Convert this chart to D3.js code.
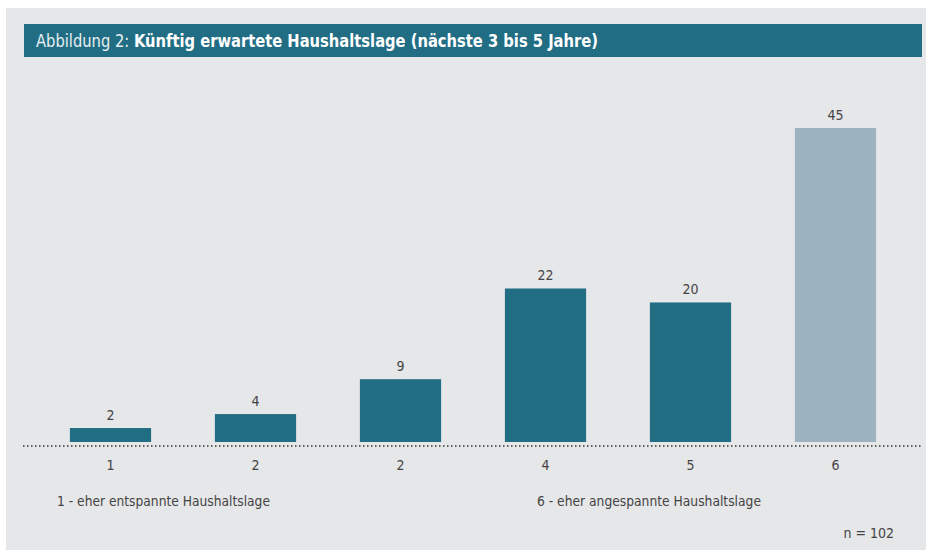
<!DOCTYPE html>
<html><head><meta charset="utf-8">
<script src="https://cdn.jsdelivr.net/npm/d3@7"></script>
<style>
html,body{margin:0;padding:0;background:#fff;}
svg{display:block;}
text{font-family:"Liberation Sans Narrow","DejaVu Sans Condensed","Liberation Sans",sans-serif;}
</style></head>
<body>
<script>
const categories = ["1", "2", "2", "4", "5", "6"];
const values = [2, 4, 9, 22, 20, 45];
const highlight = [false, false, false, false, false, true];
const titlePrefix = "Abbildung 2: ";
const titleMain = "Künftig erwartete Haushaltslage (nächste 3 bis 5 Jahre)";
const noteLeft = "1 - eher entspannte Haushaltslage";
const noteRight = "6 - eher angespannte Haushaltslage";
const nNote = "n = 102";

const W = 926, H = 550;
const svg = d3.select("body").append("svg").attr("width", W).attr("height", H);

svg.append("rect").attr("x", 6).attr("y", 8).attr("width", W - 6).attr("height", H - 8).attr("fill", "#e6e7e9");

// title bar
svg.append("rect").attr("x", 24).attr("y", 24).attr("width", 898).attr("height", 33).attr("fill", "#216e84");
const t = svg.append("text").attr("x", 36).attr("y", 47).attr("font-size", 17).attr("fill", "#fff")
  .attr("textLength", 562).attr("lengthAdjust", "spacingAndGlyphs");
t.append("tspan").text(titlePrefix).attr("fill", "#e8eef1");
t.append("tspan").text(titleMain).attr("font-weight", "bold");

const x = d3.scaleBand().domain(d3.range(categories.length)).range([38, 908]).paddingInner(0.44).paddingOuter(0.22);
const y = d3.scaleLinear().domain([0, 45]).range([442, 128]);

svg.selectAll("rect.bar").data(values).join("rect").attr("class", "bar")
  .attr("x", (d, i) => x(i)).attr("width", x.bandwidth())
  .attr("y", d => y(d)).attr("height", d => y(0) - y(d))
  .attr("fill", (d, i) => highlight[i] ? "#9db3c0" : "#216e84");

svg.selectAll("text.val").data(values).join("text").attr("class", "val")
  .attr("x", (d, i) => x(i) + x.bandwidth() / 2).attr("y", d => y(d) - 8)
  .attr("text-anchor", "middle").attr("font-size", 14).attr("fill", "#444")
  .text(d => d);

// dotted baseline
svg.append("line").attr("x1", 23).attr("x2", 922).attr("y1", 446).attr("y2", 446)
  .attr("stroke", "#333").attr("stroke-width", 1.5).attr("stroke-dasharray", "1.5,2.5");

// category axis
const axis = d3.axisBottom(x).tickSize(0).tickPadding(0).tickFormat(i => categories[i]);
const ag = svg.append("g").attr("transform", "translate(0,460)").call(axis);
ag.select(".domain").remove();
ag.selectAll("text").attr("font-size", 14).attr("fill", "#444")
  .attr("font-family", "'Liberation Sans Narrow','DejaVu Sans Condensed',sans-serif");

svg.append("text").attr("x", 57).attr("y", 506).attr("font-size", 14).attr("fill", "#444")
  .attr("textLength", 213).attr("lengthAdjust", "spacingAndGlyphs").text(noteLeft);
svg.append("text").attr("x", 537).attr("y", 506).attr("font-size", 14).attr("fill", "#444")
  .attr("textLength", 224).attr("lengthAdjust", "spacingAndGlyphs").text(noteRight);
svg.append("text").attr("x", 894).attr("y", 538).attr("text-anchor", "end").attr("font-size", 14).attr("fill", "#444").text(nNote);
</script>
</body></html>
